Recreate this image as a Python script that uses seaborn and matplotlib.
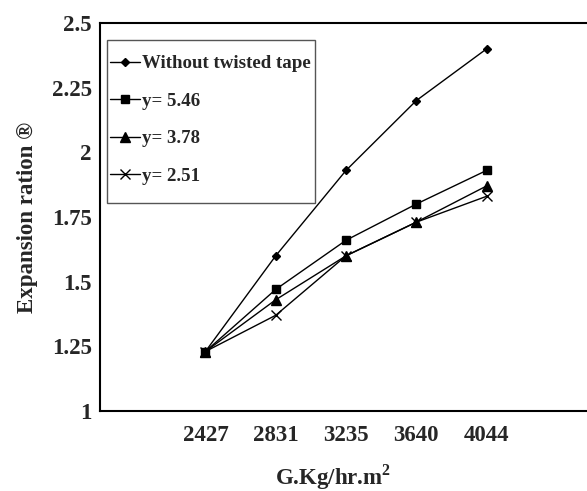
import pandas as pd
import matplotlib
matplotlib.use("Agg")
import matplotlib.pyplot as plt
from matplotlib.patches import Rectangle
import seaborn as sns

# flux categories (Excel style category axis, one empty slot each side)
flux = ["2427", "2831", "3235", "3640", "4044"]
without_tape = [1.23, 1.60, 1.93, 2.20, 2.40]
y_546 = [1.23, 1.47, 1.66, 1.80, 1.93]
y_378 = [1.23, 1.43, 1.60, 1.73, 1.87]
y_251 = [1.23, 1.37, 1.60, 1.73, 1.83]

series_names = ["Without twisted tape", "y= 5.46", "y= 3.78", "y= 2.51"]
series_vals = [without_tape, y_546, y_378, y_251]

rows = []
for name, vals in zip(series_names, series_vals):
    for i, v in enumerate(vals):
        rows.append({"pos": i + 1, "ratio": v, "series": name})
df = pd.DataFrame(rows)

sns.set_style("white")
plt.rcParams['font.family'] = ['Liberation Serif', 'DejaVu Serif']
plt.rcParams['font.weight'] = 'bold'
plt.rcParams['mathtext.fontset'] = 'custom'
plt.rcParams['mathtext.rm'] = 'Liberation Serif:bold'
plt.rcParams['mathtext.bf'] = 'Liberation Serif:bold'

fig = plt.figure(figsize=(5.87, 4.91), dpi=100)
ax = fig.add_axes([100 / 587, 80 / 491, 492 / 587, 388 / 491])

markers = {"Without twisted tape": "D", "y= 5.46": "s", "y= 3.78": "^", "y= 2.51": "x"}
sizes = {"Without twisted tape": 4.5, "y= 5.46": 6, "y= 3.78": 6.5, "y= 2.51": 7}
for name in series_names:
    sub = df[df["series"] == name]
    sns.lineplot(data=sub, x="pos", y="ratio", ax=ax, color="black", linewidth=1,
                 marker=markers[name], markersize=sizes[name], markeredgewidth=1,
                 markeredgecolor="black", markerfacecolor="black", label=name)

ax.set_xlim(-0.5, 6.5)
ax.set_ylim(1, 2.5)
ax.set_yticks([1, 1.25, 1.5, 1.75, 2, 2.25, 2.5])
ax.set_yticklabels(["1", "1.25", "1.5", "1.75", "2", "2.25", "2.5"])
ax.set_xticks(range(1, 6))
ax.set_xticklabels(flux)
ax.set_xticks([k - 0.5 for k in range(8)], minor=True)
ax.tick_params(axis="x", which="major", length=0, pad=10, labelsize=16.5)
ax.tick_params(axis="x", which="minor", length=5, width=1, direction="out", color="black")
ax.tick_params(axis="y", which="major", length=5, width=1, direction="out", color="black",
               labelsize=16.5, pad=1)
for lab in ax.get_xticklabels() + ax.get_yticklabels():
    lab.set_fontweight("bold")

for sp in ax.spines.values():
    sp.set_color("black")
    sp.set_linewidth(1.5)

ax.set_xlabel(r"G.Kg/hr.m$^{\mathbf{2}}$", fontsize=16.5, fontweight="bold")
ax.xaxis.set_label_coords((333 - 100) / 492, -(462 - 411) / 388)
ax.set_ylabel("Expansion ration ®", fontsize=16.5, fontweight="bold")
ax.yaxis.set_label_coords(-(100 - 38) / 492, 0.5)

# legend box drawn separately (Excel style: tight left padding, tall top padding)
ax.add_patch(Rectangle(((107 - 100) / 492, (411 - 203) / 388), 208 / 492, 163 / 388,
                       transform=ax.transAxes, fill=True, facecolor="white",
                       edgecolor="#555555", linewidth=1, zorder=4))
leg = ax.legend(loc="upper left", bbox_to_anchor=((110 - 100) / 492, (411 - 55) / 388),
                borderaxespad=0, borderpad=0, fontsize=13.6, handlelength=1.6,
                handletextpad=0.1, labelspacing=1.08, frameon=False, numpoints=1)
leg.set_zorder(5)
for t in leg.get_texts():
    t.set_fontweight("bold")

fig.savefig("out.png", dpi=100)
